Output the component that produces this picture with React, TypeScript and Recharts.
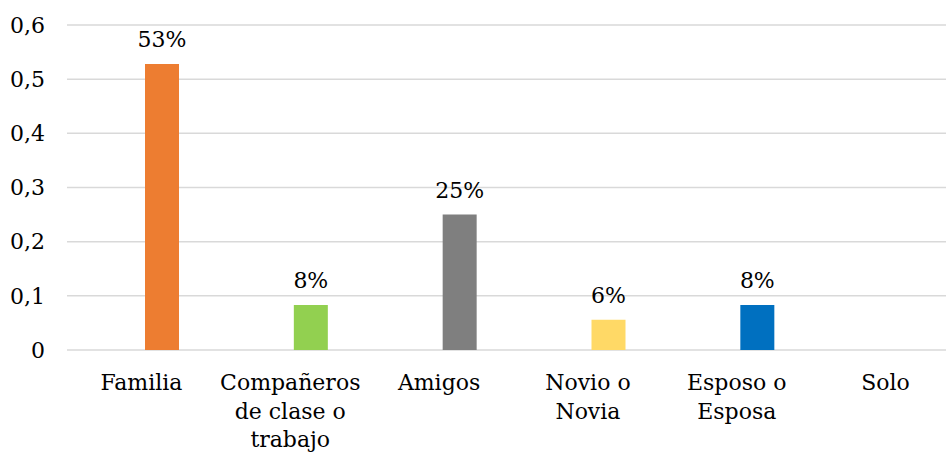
import { Bar, BarChart, CartesianGrid, Cell, LabelList, XAxis, YAxis } from "recharts";

const categories = [
  "Familia",
  "Compañeros de clase o trabajo",
  "Amigos",
  "Novio o Novia",
  "Esposo o Esposa",
  "Solo",
];
const shares = [0.528, 0.083, 0.25, 0.056, 0.083, 0];
// the source chart has a second, empty series, which pushes the bars right of centre
const emptySeries = [0, 0, 0, 0, 0, 0];
const yTicks = [0, 0.1, 0.2, 0.3, 0.4, 0.5, 0.6];
const barColors = ["#ED7D31", "#92D050", "#7F7F7F", "#FFD966", "#0070C0", "#4472C4"];

const data = categories.map((name, i) => ({ name, empty: emptySeries[i], share: shares[i] }));

// Liberation Serif doesn't resolve here, DejaVu Serif does (it runs wider, so a smaller size)
const font = "'DejaVu Serif', serif";
const fontSize = 22;

function wrap(label: string, max = 11) {
  const lines: string[] = [];
  let line = "";
  for (const word of label.split(" ")) {
    const next = line ? `${line} ${word}` : word;
    if (next.length > max && line) {
      lines.push(line);
      line = word;
    } else {
      line = next;
    }
  }
  if (line) lines.push(line);
  return lines;
}

function CategoryTick({ x, y, payload }: any) {
  const lines = wrap(String(payload.value));
  return (
    <text x={x} y={y} textAnchor="middle" fill="#000" style={{ fontFamily: font }} fontSize={fontSize}>
      {lines.map((line, i) => (
        <tspan key={i} x={x} dy={i === 0 ? 32 : 28.5}>
          {line}
        </tspan>
      ))}
    </text>
  );
}

export default function App() {
  return (
    <div
      style={{
        position: "absolute",
        left: 0,
        top: 0,
        width: 946,
        height: 454,
        overflow: "hidden",
        background: "#fff",
        fontFamily: font,
      }}
    >
      <BarChart
        width={960}
        height={454}
        data={data}
        margin={{ top: 25, right: 0, left: 0, bottom: 0 }}
        barSize={34}
        barGap={8}
        style={{ fontFamily: font }}
      >
        <CartesianGrid stroke="#d9d9d9" strokeWidth={1.5} vertical={false} />
        <XAxis
          dataKey="name"
          axisLine={false}
          tickLine={false}
          height={104}
          interval={0}
          tick={<CategoryTick />}
        />
        <YAxis
          width={67}
          domain={[0, 0.6]}
          ticks={yTicks}
          axisLine={false}
          tickLine={false}
          tickMargin={16}
          tick={{ fill: "#000", fontSize, style: { fontFamily: font } }}
          tickFormatter={(v) => String(v).replace(".", ",")}
        />
        <Bar dataKey="empty" fill="transparent" isAnimationActive={false} />
        <Bar dataKey="share" isAnimationActive={false}>
          {data.map((d, i) => (
            <Cell key={d.name} fill={barColors[i]} />
          ))}
          <LabelList
            dataKey="share"
            position="top"
            offset={17}
            fill="#000"
            fontSize={fontSize}
            style={{ fontFamily: font }}
            formatter={(v: any) => (Number(v) > 0 ? `${Math.round(Number(v) * 100)}%` : "")}
          />
        </Bar>
      </BarChart>
    </div>
  );
}
